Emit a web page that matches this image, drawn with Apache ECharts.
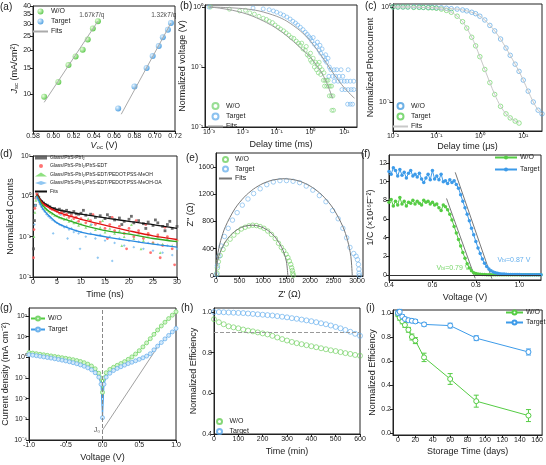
<!DOCTYPE html>
<html>
<head>
<meta charset="utf-8">
<script src="https://cdn.jsdelivr.net/npm/echarts@6/dist/echarts.min.js"></script>
<style>
  html, body { margin: 0; padding: 0; background: #fff; }
  #main { width: 546px; height: 465px; }
</style>
</head>
<body>
<div id="main"></div>
<script>
// ---- (a) Jsc vs Voc ----
var aVocWO = [0.591, 0.605, 0.615, 0.622, 0.629, 0.634, 0.639, 0.644];
var aJscWO = [9.6, 12.1, 15.8, 18.1, 20.1, 23.6, 28.1, 31.5];
var aVocT = [0.664, 0.680, 0.692, 0.698, 0.704, 0.708, 0.713, 0.716];
var aJscT = [8.0, 11.3, 15.1, 18.2, 21.3, 24.5, 27.5, 30.6];
var aFitVocWO = [0.591, 0.644], aFitJscWO = [8.8, 31.5];
var aFitVocT = [0.667, 0.716], aFitJscT = [7.3, 30.6];
var aXTicks = [0.58, 0.60, 0.62, 0.64, 0.66, 0.68, 0.70, 0.72];
var aYTicks = [10, 15, 20, 25, 30, 35, 40];

// ---- (b) TPV ----
var bWO = [[0.0011,1.0],[0.004,0.92],[0.008,0.86],[0.012,0.88],[0.016,0.8],[0.022,0.76],[0.03,0.7],[0.04,0.65],[0.05,0.62],[0.06,0.58],[0.075,0.55],[0.09,0.5],[0.11,0.46],[0.13,0.43],[0.16,0.4],[0.19,0.37],[0.23,0.34],[0.27,0.31],[0.32,0.3],[0.38,0.27],[0.44,0.25],[0.5,0.23],[0.55,0.25],[0.6,0.2],[0.7,0.19],[0.75,0.22],[0.8,0.16],[0.9,0.15],[1.0,0.17],[1.0,0.13],[1.1,0.12],[1.2,0.14],[1.3,0.1],[1.4,0.12],[1.5,0.09],[1.6,0.11],[1.7,0.08],[1.9,0.1],[2.0,0.075],[2.2,0.09],[2.4,0.06],[2.7,0.06],[3.0,0.06],[3.3,0.06],[2.6,0.048],[3.0,0.048],[3.4,0.048],[3.8,0.048],[4.2,0.048],[3.6,0.033],[4.1,0.033],[4.6,0.033],[4.3,0.019],[4.8,0.019],[1.8,0.12],[2.5,0.08]];
var bT = [[0.001,1.0],[0.02,0.96],[0.04,0.93],[0.06,0.9],[0.08,0.86],[0.1,0.82],[0.13,0.77],[0.16,0.73],[0.2,0.68],[0.25,0.63],[0.3,0.58],[0.36,0.54],[0.42,0.5],[0.5,0.46],[0.6,0.42],[0.7,0.38],[0.8,0.35],[0.9,0.32],[1.0,0.3],[1.1,0.27],[1.2,0.31],[1.3,0.24],[1.5,0.22],[1.6,0.26],[1.8,0.19],[2.0,0.17],[2.2,0.2],[2.4,0.15],[2.7,0.13],[3.0,0.12],[3.3,0.14],[3.6,0.1],[4.0,0.09],[5,0.09],[6,0.09],[8,0.09],[13,0.09],[3.5,0.07],[4.5,0.07],[5.5,0.07],[7,0.07],[9,0.07],[5,0.058],[6.5,0.058],[8,0.058],[10,0.058],[12,0.058],[15,0.058],[19,0.058],[8.5,0.042],[10.5,0.042],[13,0.042],[16,0.042],[19,0.042],[12.5,0.024],[15,0.024],[17.5,0.024],[2.8,0.16],[1.9,0.23]];
var bFitTimeWO = [0.001, 0.002, 0.005, 0.01, 0.02, 0.05, 0.1, 0.2, 0.5, 1, 2, 3, 4.5];
var bFitWO = [1.0, 0.96, 0.88, 0.8, 0.7, 0.55, 0.44, 0.33, 0.21, 0.145, 0.085, 0.055, 0.03];
var bFitTimeT = [0.001, 0.003, 0.01, 0.03, 0.1, 0.2, 0.5, 1, 2, 3, 5, 10, 20];
var bFitT = [1.0, 0.98, 0.94, 0.86, 0.7, 0.58, 0.4, 0.27, 0.16, 0.115, 0.075, 0.045, 0.03];

// ---- (c) TPC ----
var cTimeWO = [0.01,0.013,0.017,0.022,0.03,0.04,0.05,0.065,0.08,0.1,0.13,0.17,0.22,0.3,0.4,0.5,0.65,0.8,1.0,1.3,1.7,2.2,3,4,5,6.5,8,10,13,17,22,27];
var cWO = [1.0,1.0,1.0,1.0,1.0,1.0,0.99,0.99,0.99,0.98,0.98,0.97,0.96,0.95,0.93,0.91,0.88,0.85,0.8,0.73,0.64,0.56,0.46,0.37,0.31,0.25,0.21,0.17,0.13,0.1,0.082,0.075];
var cTimeT = [0.01,0.013,0.017,0.022,0.03,0.04,0.05,0.065,0.08,0.1,0.13,0.17,0.22,0.3,0.4,0.5,0.65,0.8,1.0,1.3,1.7,2.2,3,4,5,6.5,8];
var cT = [1.0,1.0,1.0,1.0,0.99,0.99,0.99,0.98,0.98,0.97,0.95,0.92,0.88,0.8,0.7,0.6,0.48,0.39,0.3,0.22,0.16,0.12,0.09,0.075,0.068,0.063,0.06];

// ---- (d) TRPL ----
var dBlack = [[0.1,0.05],[0.3,0.25],[0.5,0.6],[0.7,0.95],[0.9,1.1],[1.2,0.95],[1.5,0.8],[1.8,0.75],[2.2,0.68],[2.6,0.62],[3.0,0.6],[3.5,0.55],[4.0,0.5],[4.5,0.5],[5.0,0.46],[5.5,0.48],[6.0,0.44],[6.5,0.42],[7.0,0.45],[7.5,0.4],[8.0,0.38],[8.5,0.42],[9.0,0.37],[9.5,0.36],[10,0.38],[11,0.34],[12,0.36],[13,0.3],[14,0.33],[15,0.28],[16,0.3],[17,0.26],[18,0.29],[19,0.24],[20,0.27],[21,0.22],[22,0.25],[23,0.21],[24,0.23],[25,0.19],[26,0.22],[27,0.18],[28,0.2],[29,0.16],[30,0.18],[10.5,0.45],[15.5,0.35],[20.5,0.32],[25.5,0.26],[28.5,0.24],[18.5,0.2],[23.5,0.16],[27.5,0.14]];
var dRed = [[0.1,0.03],[0.2,0.15],[0.4,0.5],[0.6,0.9],[0.8,1.15],[1.0,1.0],[1.3,0.85],[1.6,0.75],[2.0,0.7],[2.4,0.62],[2.8,0.58],[3.2,0.55],[3.6,0.5],[4.0,0.47],[4.5,0.45],[5.0,0.42],[5.5,0.38],[6.0,0.4],[6.5,0.34],[7.0,0.36],[7.5,0.3],[8,0.33],[8.5,0.28],[9,0.3],[9.5,0.24],[10,0.28],[11,0.22],[12,0.25],[13,0.2],[14,0.23],[15,0.16],[16,0.2],[17,0.14],[18,0.18],[19,0.12],[20,0.16],[21,0.1],[22,0.14],[23,0.09],[24,0.12],[25,0.07],[26,0.11],[27,0.06],[28,0.1],[29,0.05],[30,0.08],[12.5,0.35],[16.5,0.3],[21.5,0.25],[24.5,0.04],[26.5,0.03],[29.5,0.02],[19.5,0.05],[15.5,0.09],[23.5,0.2],[27.5,0.17]];
var dGreen = [[0.2,0.1],[0.4,0.4],[0.6,0.8],[0.8,1.0],[1.0,0.9],[1.3,0.75],[1.6,0.65],[2.0,0.58],[2.4,0.5],[2.8,0.47],[3.2,0.43],[3.6,0.4],[4.0,0.37],[4.5,0.34],[5.0,0.33],[5.5,0.3],[6.0,0.29],[6.5,0.27],[7,0.28],[7.5,0.24],[8,0.26],[8.5,0.22],[9,0.23],[9.5,0.19],[10,0.21],[11,0.17],[12,0.2],[13,0.15],[14,0.17],[15,0.13],[16,0.16],[17,0.12],[18,0.14],[19,0.1],[20,0.13],[21,0.09],[22,0.12],[23,0.08],[24,0.11],[25,0.07],[26,0.1],[27,0.065],[28,0.09],[29,0.06],[30,0.08],[11.5,0.28],[14.5,0.25],[18.5,0.06],[22.5,0.05],[26.5,0.04],[20.5,0.2]];
var dBlue = [[0.3,0.2],[0.5,0.6],[0.7,0.9],[0.9,0.95],[1.1,0.8],[1.4,0.65],[1.7,0.55],[2.0,0.48],[2.4,0.42],[2.8,0.36],[3.2,0.32],[3.6,0.29],[4.0,0.26],[4.5,0.24],[5.0,0.22],[5.5,0.2],[6,0.19],[6.5,0.17],[7,0.18],[7.5,0.15],[8,0.16],[8.5,0.13],[9,0.14],[9.5,0.12],[10,0.13],[11,0.1],[12,0.12],[13,0.09],[14,0.11],[15,0.08],[16,0.1],[17,0.07],[18,0.09],[19,0.06],[20,0.08],[21,0.055],[22,0.075],[23,0.05],[24,0.07],[25,0.045],[26,0.065],[27,0.04],[28,0.06],[29,0.035],[30,0.05],[4.2,0.12],[7.2,0.09],[9.8,0.05],[13.5,0.03],[16.5,0.025],[12.2,0.2],[5.8,0.35]];
var dFitTime = [0.8, 1, 1.5, 2, 3, 4, 5, 7, 10, 13, 16, 20, 25, 30];
var dFitBlack = [1.1, 1.05, 0.85, 0.72, 0.6, 0.52, 0.47, 0.42, 0.36, 0.32, 0.28, 0.24, 0.2, 0.16];
var dFitRed = [1.1, 1.0, 0.82, 0.68, 0.56, 0.48, 0.42, 0.34, 0.27, 0.22, 0.18, 0.14, 0.105, 0.085];
var dFitGreen = [1.05, 0.95, 0.75, 0.6, 0.46, 0.38, 0.32, 0.26, 0.2, 0.16, 0.135, 0.115, 0.09, 0.075];
var dFitBlue = [1.0, 0.9, 0.66, 0.5, 0.36, 0.28, 0.22, 0.17, 0.13, 0.11, 0.095, 0.08, 0.065, 0.055];
var dNames = ['Glass/PbS-PbI₂', 'Glass/PbS-PbI₂/PbS-EDT', 'Glass/PbS-PbI₂/PbS-EDT/PEDOT:PSS-MeOH', 'Glass/PbS-PbI₂/PbS-EDT/PEDOT:PSS-MeOH-OA'];

// ---- (e) Nyquist ----
var eWO = [[20,40],[30,120],[50,210],[90,300],[150,390],[220,470],[300,540],[380,600],[460,650],[540,690],[620,715],[700,735],[780,745],[860,740],[940,725],[1020,700],[1100,660],[1180,610],[1260,550],[1330,480],[1390,420],[1440,370],[1490,320],[1530,270],[1560,220],[1590,170],[1610,120],[1625,80],[1635,40],[1645,10]];
var eT = [[10,20],[30,150],[60,290],[110,440],[180,580],[260,700],[350,820],[450,930],[560,1040],[680,1130],[800,1210],[940,1280],[1080,1340],[1220,1380],[1360,1400],[1500,1400],[1640,1390],[1780,1370],[1920,1320],[2060,1260],[2200,1180],[2340,1090],[2480,960],[2600,840],[2700,700],[2780,560],[2850,420],[2930,330],[2980,290],[3010,240],[3030,170],[3040,100],[3045,40],[3050,5]];
var eFitXWO = [0, 30, 100, 200, 300, 400, 500, 600, 765, 900, 1000, 1100, 1200, 1300, 1400, 1450, 1500, 1530];
var eFitYWO = [0, 207, 369, 503, 592, 655, 700, 728, 746, 734, 710, 671, 614, 533, 416, 332, 207, 0];
var eFitXT = [0, 30, 100, 200, 400, 600, 800, 1000, 1200, 1450, 1700, 1900, 2100, 2300, 2500, 2700, 2800, 2870, 2900];
var eFitYT = [0, 289, 521, 724, 985, 1157, 1277, 1358, 1407, 1428, 1407, 1358, 1277, 1157, 985, 724, 521, 285, 0];

// ---- (f) 1/C vs V ----
var fVolt = [0.40,0.41,0.42,0.43,0.44,0.45,0.46,0.47,0.48,0.49,0.50,0.51,0.52,0.53,0.54,0.55,0.56,0.57,0.58,0.59,0.60,0.61,0.62,0.63,0.64,0.65,0.66,0.67,0.68,0.69,0.70,0.71,0.72,0.73,0.74,0.75,0.76,0.77,0.78,0.79,0.80,0.81,0.82,0.83,0.84,0.85,0.86,0.87,0.88,0.89,0.90,0.91,0.92,0.93,0.94,0.95,0.96,0.97,0.98,0.99,1.00,1.01,1.02,1.03,1.04,1.05,1.06,1.07,1.08,1.09,1.10];
var fWO = [7.8,8.1,7.4,7.9,7.5,8.3,7.6,7.9,7.4,7.8,
  7.7,8.0,7.6,7.9,7.7,7.5,8.0,7.8,7.9,7.6,
  7.8,7.5,7.6,7.2,6.9,7.5,7.3,7.0,6.5,5.9,
  5.2,4.5,3.8,3.1,2.4,1.8,1.2,0.75,0.45,0.25,
  0.15,0.10,0.07,0.05,0.04,0.03,0.03,0.02,0.02,0.02,
  0.02,0.02,0.01,0.01,0.01,0.01,0.01,0.01,0.01,0.01,
  0.01,0.01,0.01,0.01,0.01,0.01,0.01,0.01,0.01,0.01,0.01];
var fT = [11.1,10.8,11.5,11.2,10.6,11.3,10.7,11.0,10.4,10.9,
  11.2,10.6,10.8,10.5,10.9,10.3,9.9,10.4,10.8,10.2,
  11.2,10.3,10.6,10.2,10.8,10.0,10.1,9.8,10.2,9.9,
  10.1,9.7,9.3,8.6,7.9,7.2,6.5,5.8,5.0,4.3,
  3.6,2.9,2.3,1.7,1.25,0.9,0.65,0.45,0.32,0.24,
  0.18,0.14,0.11,0.09,0.07,0.06,0.05,0.05,0.04,0.04,
  0.04,0.03,0.03,0.03,0.03,0.03,0.02,0.02,0.02,0.02,0.02];
var fFitVWO = [0.665, 0.797], fFitYWO = [8.2, -0.36];
var fFitVT = [0.705, 0.874], fFitYT = [11.0, -0.4];

// ---- (g) dark J-V ----
var gVolt = [-1.0,-0.95,-0.9,-0.85,-0.8,-0.75,-0.7,-0.65,-0.6,-0.55,-0.5,-0.45,-0.4,-0.35,-0.3,-0.25,-0.2,-0.15,-0.1,-0.05,-0.02,0,0.02,0.05,0.1,0.15,0.2,0.25,0.3,0.35,0.4,0.45,0.5,0.55,0.6,0.65,0.7,0.75,0.8,0.85,0.9,0.95,1.0];
var gWO = [1.7,1.6,1.5,1.41,1.33,1.25,1.17,1.1,1.03,0.96,0.9,0.83,0.77,0.7,0.63,0.55,0.47,0.38,0.28,0.17,0.1,0.02,0.1,0.18,0.26,0.33,0.41,0.5,0.62,0.8,1.05,1.45,2.1,3.2,5.0,8.0,13,21,33,50,75,110,160];
var gT = [1.35,1.27,1.2,1.12,1.05,0.98,0.92,0.85,0.79,0.73,0.67,0.61,0.55,0.49,0.43,0.37,0.31,0.25,0.18,0.11,0.05,0.0012,0.05,0.11,0.17,0.23,0.29,0.35,0.42,0.5,0.58,0.68,0.8,0.95,1.15,1.5,2.3,3.5,5.2,7.8,11.5,17,25];
var gJ0Line = [[0, 3e-4], [0.74, 2.8]];

// ---- (h) operational stability ----
var hTime = [0,20,40,60,80,100,120,140,160,180,200,220,240,260,280,300,320,340,360,380,400,420,440,460,480,500,520,540,560,580,600];
var hWO = [0.965,0.95,0.94,0.93,0.925,0.92,0.914,0.909,0.905,0.9,0.895,0.89,0.883,0.875,0.867,0.86,0.853,0.847,0.842,0.837,0.832,0.827,0.822,0.817,0.812,0.808,0.803,0.798,0.794,0.789,0.785];
var hT = [1.0,1.0,0.999,0.998,0.997,0.996,0.995,0.993,0.991,0.989,0.987,0.985,0.983,0.98,0.977,0.974,0.97,0.967,0.963,0.959,0.955,0.95,0.945,0.94,0.934,0.927,0.92,0.912,0.903,0.893,0.883];

// ---- (i) storage stability ----
var iDays = [0, 2, 5, 8, 12, 16, 20, 30, 60, 90, 150];
var iWO = [0.99, 0.96, 0.93, 0.9, 0.86, 0.8, 0.77, 0.63, 0.45, 0.265, 0.145];
var iWOErr = [0.02, 0.02, 0.02, 0.02, 0.02, 0.025, 0.025, 0.035, 0.045, 0.05, 0.05];
var iT = [1.0, 1.01, 0.97, 0.95, 0.94, 0.935, 0.93, 0.905, 0.895, 0.79, 0.675];
var iTErr = [0.02, 0.02, 0.015, 0.015, 0.015, 0.015, 0.015, 0.015, 0.02, 0.02, 0.025];

var FONT = '"Liberation Sans", Arial, sans-serif';
var INK = '#222';
var GREEN = '#55cc44', BLUE = '#3d9be9', FITGRAY = '#9a9a9a';

var SUP = {'-': '⁻', '0': '⁰', '1': '¹', '2': '²', '3': '³', '4': '⁴', '5': '⁵', '6': '⁶', '7': '⁷', '8': '⁸', '9': '⁹'};
function pow10Label(v) {
    var e = Math.log10(v), r = Math.round(e);
    if (Math.abs(e - r) > 0.02) return '';
    return '10' + String(r).split('').map(function (c) { return SUP[c]; }).join('');
}
function zip(xs, ys) { return xs.map(function (x, i) { return [x, ys[i]]; }); }
function fixed(n) { return function (v) { return (+v).toFixed(n); }; }
function plain(v) { return String(Math.round(v)); }

var RICH = {
    i: {fontStyle: 'italic', fontSize: 9, fontFamily: FONT, color: INK},
    s: {fontSize: 6, fontFamily: FONT, color: INK, verticalAlign: 'bottom'},
    n: {fontSize: 9, fontFamily: FONT, color: INK}
};

function axis(gi, o) {
    var a = {
        gridIndex: gi, type: o.type || 'value', min: o.min, max: o.max,
        name: o.name, nameLocation: 'middle', nameGap: o.gap,
        nameTextStyle: {fontFamily: FONT, fontSize: 9, color: INK, rich: RICH},
        axisLine: {show: true, onZero: false, lineStyle: {color: INK, width: 1}},
        axisTick: {show: true, inside: false, length: 3, lineStyle: {color: INK, width: 1}},
        axisLabel: {fontFamily: FONT, fontSize: 7, color: INK, margin: 2, formatter: o.fmt || plain},
        splitLine: {show: false}
    };
    if (o.ticks) {
        a.axisLabel.customValues = o.ticks;
        a.axisTick.customValues = o.ticks;
    }
    if (a.type === 'log') a.logBase = 10;
    return a;
}

function grid(l, t, w, h) {
    return {left: l, top: t, width: w, height: h, show: true, borderColor: INK, borderWidth: 1, backgroundColor: 'transparent'};
}

function legend(names, l, t, o) {
    o = o || {};
    return {
        data: names, left: l, top: t, orient: 'vertical', padding: 0, selectedMode: false,
        itemWidth: o.w || 15, itemHeight: o.h || 6, itemGap: o.gap || 3,
        textStyle: {fontFamily: FONT, fontSize: o.fs || 7, color: INK, padding: [0, 0, 0, -2]},
        formatter: function (n) { return n.slice(2); }
    };
}

function hollow(name, gi, data, color, size) {
    return {
        name: name, type: 'scatter', xAxisIndex: gi, yAxisIndex: gi, data: data,
        symbol: 'circle', symbolSize: size || 4,
        itemStyle: {color: 'rgba(255,255,255,0)', borderColor: color, borderWidth: 0.8}
    };
}
// fit curves: no symbols anywhere, so the legend shows a plain line
function fitLine(name, gi, data, color, width, smooth) {
    return {
        name: name, type: 'line', xAxisIndex: gi, yAxisIndex: gi, data: data,
        symbol: 'none', smooth: smooth ? 0.3 : false,
        lineStyle: {color: color, width: width || 1}, itemStyle: {color: color, opacity: 0}
    };
}
function ball(c0, c1) {
    return new echarts.graphic.RadialGradient(0.35, 0.35, 0.65, [
        {offset: 0, color: c0}, {offset: 1, color: c1}
    ]);
}
function errBars(gi, xs, ys, es, color) {
    return {
        type: 'custom', xAxisIndex: gi, yAxisIndex: gi, z: 1,
        data: xs.map(function (x, i) { return [x, ys[i] - es[i], ys[i] + es[i]]; }),
        encode: {x: 0, y: [1, 2]},
        renderItem: function (params, api) {
            var lo = api.coord([api.value(0), api.value(1)]);
            var hi = api.coord([api.value(0), api.value(2)]);
            var w = 2.5, st = {stroke: color, lineWidth: 1};
            return {type: 'group', children: [
                {type: 'line', shape: {x1: lo[0], y1: lo[1], x2: hi[0], y2: hi[1]}, style: st},
                {type: 'line', shape: {x1: lo[0] - w, y1: lo[1], x2: lo[0] + w, y2: lo[1]}, style: st},
                {type: 'line', shape: {x1: hi[0] - w, y1: hi[1], x2: hi[0] + w, y2: hi[1]}, style: st}
            ]};
        }
    };
}
function note(gi, items) {
    return {
        type: 'scatter', xAxisIndex: gi, yAxisIndex: gi, symbolSize: 0, silent: true,
        data: items.map(function (it) {
            return {value: it.at, label: {show: true, position: 'inside', formatter: it.text,
                fontFamily: FONT, fontSize: it.fs || 7, color: it.color || INK, rich: it.rich}};
        })
    };
}

var panelLabels = [['(a)', 0, 2], ['(b)', 180, 1], ['(c)', 365, 1], ['(d)', 0, 149], ['(e)', 186, 153],
                   ['(f)', 361, 149], ['(g)', 0, 303], ['(h)', 181, 303], ['(i)', 366, 303]];

var grids = [
    grid(33, 6, 142, 125), grid(205, 5, 152, 122), grid(393, 4, 149, 127),
    grid(33, 156, 144, 121), grid(216, 153, 147, 123), grid(389, 155, 152, 125),
    grid(29, 308, 147, 132), grid(214, 308, 146, 126), grid(393, 310, 150, 125)
];

var xAxes = [
    axis(0, {min: 0.58, max: 0.72, ticks: aXTicks, fmt: fixed(2), name: '{i|V}{s|oc}{n| (V)}', gap: 10}),
    axis(1, {type: 'log', min: 7.6e-4, max: 23.7, ticks: [0.001, 0.01, 0.1, 1, 10], fmt: pow10Label, name: 'Delay time (ms)', gap: 13}),
    axis(2, {type: 'log', min: 0.01, max: 27, ticks: [0.01, 0.1, 1, 10], fmt: pow10Label, name: 'Delay time (μs)', gap: 11}),
    axis(3, {min: 0, max: 30, ticks: [0, 5, 10, 15, 20, 25, 30], name: 'Time (ns)', gap: 13}),
    axis(4, {min: 0, max: 3128, ticks: [0, 500, 1000, 1500, 2000, 2500, 3000], name: "Z' (Ω)", gap: 14}),
    axis(5, {min: 0.4, max: 1.1, ticks: [0.4, 0.6, 0.8, 1.0], fmt: fixed(1), name: 'Voltage (V)', gap: 13}),
    axis(6, {min: -1, max: 1, ticks: [-1, -0.5, 0, 0.5, 1], fmt: fixed(1), name: 'Voltage (V)', gap: 13}),
    axis(7, {min: 0, max: 600, ticks: [0, 100, 200, 300, 400, 500, 600], name: 'Time (min)', gap: 13}),
    axis(8, {min: -5.7, max: 165.7, ticks: [0, 20, 40, 60, 80, 100, 120, 140, 160], name: 'Storage Time (days)', gap: 12})
];
var yAxes = [
    axis(0, {type: 'log', min: 5.61, max: 40, ticks: aYTicks, name: '{i|J}{s|sc}{n| (mA/cm²)}', gap: 14}),
    axis(1, {type: 'log', min: 0.01, max: 1.08, ticks: [0.01, 0.1, 1], fmt: pow10Label, name: 'Normalized voltage (V)', gap: 13}),
    axis(2, {type: 'log', min: 0.0495, max: 1.075, ticks: [0.1, 1], fmt: pow10Label, name: 'Normalized Photocurrent', gap: 16}),
    axis(3, {type: 'log', min: 0.01, max: 10, ticks: [0.01, 0.1, 1, 10], fmt: pow10Label, name: 'Normalized Counts', gap: 16}),
    axis(4, {min: 0, max: 1805, ticks: [0, 400, 800, 1200, 1600], name: "Z'' (Ω)", gap: 20}),
    axis(5, {min: -0.54, max: 12.86, ticks: [0, 2, 4, 6, 8, 10, 12], name: '1/C (×10¹⁶F⁻²)', gap: 14}),
    axis(6, {type: 'log', min: 1e-4, max: 244, ticks: [1e-4, 1e-3, 0.01, 0.1, 1, 10, 100], fmt: pow10Label, name: 'Current density (mA cm⁻²)', gap: 16}),
    axis(7, {min: 0.4, max: 1.02, ticks: [0.4, 0.6, 0.8, 1.0], fmt: fixed(1), name: 'Normalized Efficiency', gap: 13}),
    axis(8, {min: -0.017, max: 1.025, ticks: [0, 0.2, 0.4, 0.6, 0.8, 1.0], fmt: fixed(1), name: 'Normalized Efficiency', gap: 13})
];

var series = [];

// (a)
series.push({name: 'a:W/O', type: 'scatter', xAxisIndex: 0, yAxisIndex: 0, data: zip(aVocWO, aJscWO),
    symbolSize: 6, itemStyle: {color: ball('#e6ffd8', '#3fbf2c')}});
series.push({name: 'a:Target', type: 'scatter', xAxisIndex: 0, yAxisIndex: 0, data: zip(aVocT, aJscT),
    symbolSize: 6, itemStyle: {color: ball('#e0f2ff', '#2f8fdc')}});
series.push(fitLine('a:Fits', 0, zip(aFitVocWO, aFitJscWO), '#aaa'));
series.push(fitLine('a:Fits', 0, zip(aFitVocT, aFitJscT), '#aaa'));
var kRich = {n: {fontSize: 6.5, fontFamily: FONT, color: INK}, k: {fontSize: 6.5, fontFamily: FONT, color: INK, fontStyle: 'italic'}};
series.push(note(0, [
    {at: [0.638, 34.8], text: '{n|1.67}{k|kT}{n|/q}', rich: kRich},
    {at: [0.709, 34.8], text: '{n|1.32}{k|kT}{n|/q}', rich: kRich}
]));

// (b)
series.push(hollow('b:W/O', 1, bWO, '#7fd67a', 4));
series.push(hollow('b:Target', 1, bT, '#6fb3ec', 4));
series.push(fitLine('b:Fits', 1, zip(bFitTimeWO, bFitWO), FITGRAY, 1, true));
series.push(fitLine('b:Fits', 1, zip(bFitTimeT, bFitT), FITGRAY, 1, true));

// (c)
series.push(hollow('c:W/O', 2, zip(cTimeWO, cWO), '#4a9de0', 4.5));
series.push(hollow('c:Target', 2, zip(cTimeT, cT), '#5fcf55', 4.5));
series.push(fitLine('c:Fits', 2, zip(cTimeWO, cWO), '#c8c8c8', 1, true));
series.push(fitLine('c:Fits', 2, zip(cTimeT, cT), '#c8c8c8', 1, true));

// (d)
var dSets = [[dBlack, '#555', 'rect', dFitBlack, '#111'], [dRed, '#ff5a5a', 'circle', dFitRed, '#e01010'],
             [dGreen, '#7ada6a', 'triangle', dFitGreen, '#2faa25'], [dBlue, '#7cbdf0', 'diamond', dFitBlue, '#2a8ae0']];
dSets.forEach(function (s, k) {
    series.push({name: 'd:' + dNames[k], type: 'scatter', xAxisIndex: 3, yAxisIndex: 3, data: s[0],
        symbol: s[2], symbolSize: 2.8, itemStyle: {color: s[1], opacity: 0.85}});
});
dSets.forEach(function (s) {
    series.push(fitLine('d:Fits', 3, zip(dFitTime, s[3]), s[4], 1.3, true));
});

// (e)
series.push(hollow('e:W/O', 4, eWO, '#6fd060', 4.5));
series.push(hollow('e:Target', 4, eT, '#6fb3ec', 4.5));
series.push(fitLine('e:Fits', 4, zip(eFitXWO, eFitYWO), '#777', 1, true));
series.push(fitLine('e:Fits', 4, zip(eFitXT, eFitYT), '#777', 1, true));

// (f)
series.push({name: 'f:W/O', type: 'line', xAxisIndex: 5, yAxisIndex: 5, data: zip(fVolt, fWO),
    symbol: 'circle', symbolSize: 3.5, lineStyle: {color: GREEN, width: 1}, itemStyle: {color: GREEN},
    markLine: {silent: true, symbol: 'none', label: {show: false}, lineStyle: {color: '#333', type: 'solid', width: 1},
               data: [{yAxis: 0}]}});
series.push({name: 'f:Target', type: 'line', xAxisIndex: 5, yAxisIndex: 5, data: zip(fVolt, fT),
    symbol: 'circle', symbolSize: 3.5, lineStyle: {color: BLUE, width: 1}, itemStyle: {color: BLUE}});
series.push(fitLine('f:fit1', 5, zip(fFitVWO, fFitYWO), '#777', 1));
series.push(fitLine('f:fit2', 5, zip(fFitVT, fFitYT), '#777', 1));
var vRichG = {a: {fontSize: 7, fontFamily: FONT, color: GREEN}, b: {fontSize: 5, fontFamily: FONT, color: GREEN, verticalAlign: 'bottom'}};
var vRichB = {a: {fontSize: 7, fontFamily: FONT, color: BLUE}, b: {fontSize: 5, fontFamily: FONT, color: BLUE, verticalAlign: 'bottom'}};
series.push(note(5, [
    {at: [0.695, 0.75], text: '{a|V}{b|bi}{a|=0.79 V}', rich: vRichG},
    {at: [0.975, 1.6], text: '{a|V}{b|bi}{a|=0.87 V}', rich: vRichB}
]));

// (g)
series.push({name: 'g:W/O', type: 'line', xAxisIndex: 6, yAxisIndex: 6, data: zip(gVolt, gWO),
    symbol: 'circle', symbolSize: 4, lineStyle: {color: GREEN, width: 1},
    itemStyle: {color: '#d4f5cc', borderColor: '#7ad66e', borderWidth: 0.8},
    markLine: {silent: true, symbol: 'none', label: {show: false}, lineStyle: {color: '#888', type: 'dashed', width: 1},
               data: [{xAxis: 0}]}});
series.push({name: 'g:Target', type: 'line', xAxisIndex: 6, yAxisIndex: 6, data: zip(gVolt, gT),
    symbol: 'circle', symbolSize: 4, lineStyle: {color: BLUE, width: 1},
    itemStyle: {color: '#d2e9fb', borderColor: '#6fb3ec', borderWidth: 0.8}});
series.push(fitLine('g:J0', 6, gJ0Line, '#888', 0.8));
series.push(note(6, [{at: [-0.075, 3e-4], text: 'J₀', fs: 7}]));

// (h)
series.push(Object.assign(hollow('h:W/O', 7, zip(hTime, hWO), '#66cc55', 5), {
    markLine: {silent: true, symbol: 'none', label: {show: false}, lineStyle: {color: '#999', type: 'dashed', width: 1},
               data: [{yAxis: 0.9}]}}));
series.push(hollow('h:Target', 7, zip(hTime, hT), '#5aa8ec', 5));

// (i)
series.push(errBars(8, iDays, iWO, iWOErr, GREEN));
series.push(errBars(8, iDays, iT, iTErr, BLUE));
series.push({name: 'i:W/O', type: 'line', xAxisIndex: 8, yAxisIndex: 8, data: zip(iDays, iWO),
    symbol: 'circle', symbolSize: 5, lineStyle: {color: GREEN, width: 1},
    itemStyle: {color: '#fff', borderColor: GREEN, borderWidth: 1}});
series.push({name: 'i:Target', type: 'line', xAxisIndex: 8, yAxisIndex: 8, data: zip(iDays, iT),
    symbol: 'circle', symbolSize: 5, lineStyle: {color: BLUE, width: 1},
    itemStyle: {color: '#fff', borderColor: BLUE, borderWidth: 1}});

var legends = [
    legend(['a:W/O', 'a:Target', 'a:Fits'], 32, 8, {w: 15, h: 6, gap: 3}),
    legend(['b:W/O', 'b:Target', 'b:Fits'], 207, 102, {w: 15, h: 6, gap: 2.5}),
    legend(['c:W/O', 'c:Target', 'c:Fits'], 392, 102, {w: 15, h: 6, gap: 2.5}),
    legend(dNames.map(function (n) { return 'd:' + n; }).concat(['d:Fits']), 34, 155, {w: 12, h: 4, gap: 3.5, fs: 5}),
    legend(['e:W/O', 'e:Target', 'e:Fits'], 218, 156, {w: 13, h: 5, gap: 2.5}),
    legend(['f:W/O', 'f:Target'], 494, 154, {w: 22, h: 5, gap: 5}),
    legend(['g:W/O', 'g:Target'], 30, 315, {w: 14, h: 5, gap: 4}),
    legend(['h:W/O', 'h:Target'], 216, 418, {w: 14, h: 5, gap: 3}),
    legend(['i:W/O', 'i:Target'], 505, 309, {w: 17, h: 5, gap: 3})
];

var option = {
    animation: false,
    backgroundColor: '#fff',
    title: panelLabels.map(function (p) {
        return {text: p[0], left: p[1], top: p[2], padding: 0,
                textStyle: {fontFamily: FONT, fontSize: 10, fontWeight: 'normal', color: INK}};
    }),
    legend: legends,
    grid: grids,
    xAxis: xAxes,
    yAxis: yAxes,
    series: series
};

var chart = echarts.init(document.getElementById('main'));
chart.setOption(option);
</script>
</body>
</html>
